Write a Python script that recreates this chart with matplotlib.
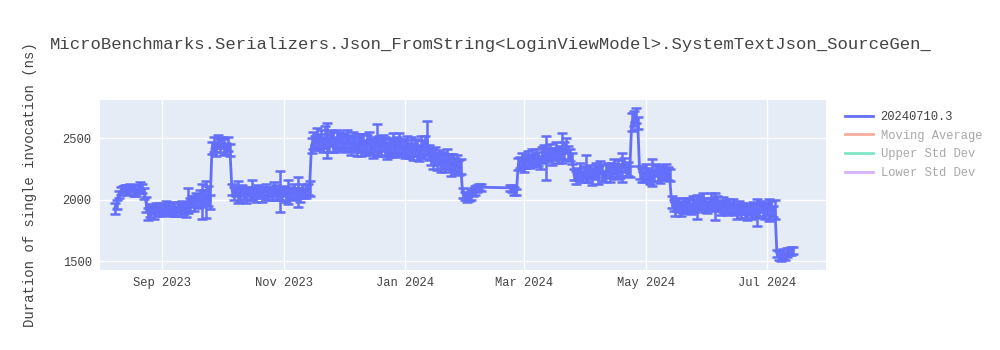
import matplotlib
matplotlib.use("Agg")
import matplotlib.pyplot as plt
import matplotlib.dates as mdates
from matplotlib.lines import Line2D
import pandas as pd

# Benchmark run results: each run block starts at a date and holds one value per day (ns)
run_starts = ["2023-08-08", "2024-02-23"]

aug_2023 = [1930, 1960, 2040, 2070, 2085, 2090, 2075, 2080, 2100, 2095, 2070, 2060, 2085, 2105, 2090, 2050, 1960, 1880]
aug_sep_2023 = [1900, 1920, 1890, 1935, 1910, 1925, 1900, 1915, 1940, 1920, 1930, 1905, 1925, 1910, 1935, 1920,
                1945, 1930, 1915, 1990, 1960, 1985, 1970, 2000, 1990, 2010, 1985, 2020, 2000, 2030, 1980]
sep_oct_2023 = [2420, 2450, 2400, 2470, 2440, 2460, 2430, 2410, 2450, 2400]
oct_nov_2023 = [2080, 2050, 2070, 2060, 2040, 2075, 2055, 2030, 2065, 2045, 2080, 2060, 2035, 2070, 2050, 2040,
                2060, 2075, 2050, 2060, 2040, 2090, 2055, 2040, 2065, 2050, 2070, 2035, 2060, 2055, 2045, 2070,
                2050, 2060, 2030, 2075, 2050, 2065, 2080, 2090]
nov_2023 = [2440, 2480, 2460, 2500, 2470, 2490, 2450, 2510, 2480, 2460, 2500, 2470, 2450, 2490, 2480, 2460]
dec_2023 = [2470, 2450, 2490, 2460, 2440, 2480, 2450, 2430, 2470, 2440, 2460, 2420, 2450, 2470, 2430, 2410,
            2450, 2480, 2440, 2420, 2460, 2430, 2400, 2440, 2420, 2450, 2410, 2440, 2460, 2420, 2430]
jan_2024 = [2410, 2440, 2400, 2430, 2390, 2420, 2400, 2380, 2430, 2410, 2440, 2500, 2380, 2350, 2330, 2360,
            2310, 2340, 2300, 2320, 2290, 2330, 2310, 2280, 2300, 2270, 2290, 2260]
jan_feb_2024 = [2270, 2050, 2030, 2010, 2020, 2040, 2060, 2075, 2090, 2100, 2100]

late_feb_2024 = [2095, 2090, 2070, 2060]
feb_mar_2024 = [2290, 2300, 2320, 2280, 2310, 2330, 2300, 2340, 2320, 2350, 2330, 2300, 2360, 2380, 2340, 2360,
                2390, 2350, 2370, 2400, 2360, 2380, 2420, 2400, 2440, 2380, 2360, 2330]
mar_apr_2024 = [2200, 2180, 2210, 2240, 2190, 2220, 2250, 2200, 2230, 2180, 2210, 2240, 2200, 2260, 2220, 2190,
                2230, 2250, 2210, 2240, 2270, 2220, 2250, 2230, 2260, 2280, 2240, 2250, 2230]
apr_spike_2024 = [2630, 2660, 2680, 2620]
apr_may_2024 = [2220, 2200, 2190, 2230, 2210, 2180, 2220, 2200, 2240, 2210, 2190, 2220, 2200, 2230, 2210, 2200]
may_jul_2024 = [1980, 1950, 1930, 1960, 1940, 1920, 1950, 1935, 1960, 1945, 1930, 1970, 1950, 1940, 1975, 1960,
                1990, 1955, 1940, 1970, 1990, 1960, 1945, 1975, 1950, 1930, 1960, 1940, 1920, 1950, 1930, 1945,
                1920, 1900, 1935, 1910, 1925, 1900, 1890, 1920, 1905, 1930, 1910, 1895, 1920, 1940, 1910, 1900,
                1925, 1915, 1930, 1905, 1920]
jul_2024 = [1560, 1545, 1530, 1555, 1540, 1570, 1575, 1580, 1585]

# Standard deviation of each result (ns), same layout as the values
aug_2023_sd = [45, 40, 30, 35, 25, 30, 40, 35, 30, 25, 45, 35, 30, 35, 40, 45, 60, 50]
aug_sep_2023_sd = [45, 40, 50, 35, 40, 45, 35, 40, 50, 45, 40, 35, 55, 40, 45, 50, 40, 45, 60, 100,
                   50, 45, 60, 50, 55, 70, 140, 60, 150, 80, 60]
sep_oct_2023_sd = [50, 60, 45, 55, 50, 45, 60, 50, 55, 50]
oct_nov_2023_sd = [45, 50, 40, 90, 55, 45, 50, 60, 40, 50, 80, 45, 55, 50, 40, 60, 45, 50, 55, 40,
                   45, 50, 60, 45, 170, 50, 40, 55, 100, 45, 50, 60, 45, 120, 50, 55, 40, 50, 45, 60]
nov_2023_sd = [60, 70, 55, 80, 65, 75, 60, 90, 140, 70, 65, 80, 60, 75, 70, 65]
dec_2023_sd = [70, 60, 75, 65, 80, 70, 60, 75, 65, 90, 70, 60, 75, 80, 65, 70, 60, 130, 75, 70,
               65, 80, 70, 60, 75, 90, 65, 70, 80, 70, 65]
jan_2024_sd = [70, 80, 60, 75, 65, 70, 80, 65, 90, 70, 75, 140, 60, 70, 80, 65, 70, 60, 75, 65,
               70, 80, 60, 90, 70, 65, 75, 60]
jan_feb_2024_sd = [60, 40, 35, 30, 35, 40, 30, 35, 30, 25, 30]
late_feb_2024_sd = [25, 30, 30, 25]
feb_mar_2024_sd = [50, 45, 60, 55, 50, 65, 45, 70, 50, 60, 55, 50, 65, 60, 180, 55, 60, 70, 50, 65,
                   60, 55, 120, 70, 60, 55, 50, 45]
mar_apr_2024_sd = [45, 55, 50, 60, 45, 50, 110, 55, 50, 60, 45, 55, 70, 50, 60, 45, 55, 50, 65, 55,
                   60, 50, 70, 55, 120, 60, 50, 55, 45]
apr_spike_2024_sd = [70, 60, 60, 50]
apr_may_2024_sd = [50, 55, 45, 60, 50, 55, 110, 50, 45, 60, 55, 50, 45, 60, 55, 50]
may_jul_2024_sd = [50, 45, 60, 55, 45, 50, 60, 45, 55, 50, 45, 60, 55, 100, 50, 45, 60, 55, 50, 45,
                   60, 55, 110, 50, 45, 55, 60, 50, 45, 55, 50, 60, 45, 55, 50, 60, 45, 50, 55, 45,
                   60, 50, 55, 110, 50, 45, 60, 55, 50, 90, 55, 45, 80]
jul_2024_sd = [30, 35, 30, 40, 30, 35, 30, 35, 30]

runs = [
    (aug_2023 + aug_sep_2023 + sep_oct_2023 + oct_nov_2023 + nov_2023 + dec_2023 + jan_2024 + jan_feb_2024,
     aug_2023_sd + aug_sep_2023_sd + sep_oct_2023_sd + oct_nov_2023_sd + nov_2023_sd + dec_2023_sd
     + jan_2024_sd + jan_feb_2024_sd),
    (late_feb_2024 + feb_mar_2024 + mar_apr_2024 + apr_spike_2024 + apr_may_2024 + may_jul_2024 + jul_2024,
     late_feb_2024_sd + feb_mar_2024_sd + mar_apr_2024_sd + apr_spike_2024_sd + apr_may_2024_sd
     + may_jul_2024_sd + jul_2024_sd),
]

series_name = "20240710.3"
legend_names = ["Moving Average", "Upper Std Dev", "Lower Std Dev"]
title = "MicroBenchmarks.Serializers.Json_FromString<LoginViewModel>.SystemTextJson_SourceGen_"
y_label = "Duration of single invocation (ns)"
y_ticks = [1500, 2000, 2500]

dates, values, errors = [], [], []
for start, (vals, sds) in zip(run_starts, runs):
    dates += list(pd.date_range(start, periods=len(vals), freq="D"))
    values += vals
    errors += sds

MONO = ["Liberation Mono", "DejaVu Sans Mono"]
TEXT = "#444444"
BLUE = "#636efa"

fig = plt.figure(figsize=(10, 3.5), dpi=100)
ax = fig.add_axes([0.100, 1 - 270 / 350, 0.726, 170 / 350])
ax.set_facecolor("#E5ECF6")
for s in ax.spines.values():
    s.set_visible(False)

ax.errorbar(dates, values, yerr=errors, color=BLUE, lw=2, elinewidth=1.8,
            capsize=3.5, capthick=1.8, zorder=3)

ax.set_xlim(pd.Timestamp("2023-07-31 16:00"), pd.Timestamp("2024-07-30 16:00"))
ax.set_ylim(1427, 2809)
ax.set_yticks(y_ticks)
ax.xaxis.set_major_locator(mdates.MonthLocator(bymonth=[1, 3, 5, 7, 9, 11]))
ax.xaxis.set_major_formatter(mdates.DateFormatter("%b %Y"))
ax.grid(True, color="white", lw=1, zorder=0)
ax.set_axisbelow(True)
ax.tick_params(length=0, labelsize=8.7, labelcolor=TEXT)
ax.tick_params(axis="x", pad=5)
ax.tick_params(axis="y", pad=6)
for lab in ax.get_xticklabels() + ax.get_yticklabels():
    lab.set_family(MONO)

fig.text(0.050, 1 - 45 / 350, title, family=MONO, fontsize=12.45, color=TEXT, va="center", ha="left")
fig.text(0.030, 1 - 185 / 350, y_label, family=MONO, fontsize=10.1, color=TEXT,
         rotation=90, va="center", ha="center")

handles = [Line2D([], [], color=BLUE, lw=2)]
faded = ["#f7aa9d", "#7fe5ca", "#d5b1fc"]
for c in faded:
    handles.append(Line2D([], [], color=c, lw=2))
leg = fig.legend(handles, [series_name] + legend_names, loc="upper left",
                 bbox_to_anchor=(0.845, 1 - 111 / 350), frameon=False,
                 prop={"family": MONO, "size": 8.7}, handlelength=2.35,
                 handletextpad=0.6, labelspacing=0.55, borderaxespad=0, borderpad=0)
for i, t in enumerate(leg.get_texts()):
    t.set_color(TEXT if i == 0 else "#a8a8a8")

fig.savefig("out.png", dpi=100, facecolor="white")
